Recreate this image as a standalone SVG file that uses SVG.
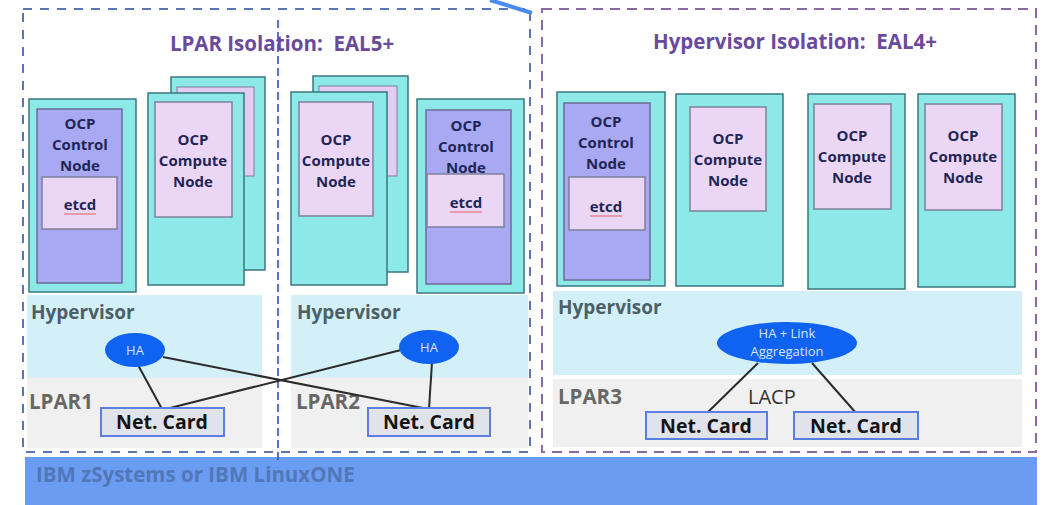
<svg xmlns="http://www.w3.org/2000/svg" width="1045" height="505" viewBox="0 0 1045 505">
  <style>
    .outer { fill: #8de8e8; stroke: #3b7780; stroke-width: 1.5; }
    .ctl { fill: #a8a8f3; stroke: #6b6b99; stroke-width: 1.5; }
    .pink { fill: #ecd6f5; stroke: #7f8099; stroke-width: 1.5; }
    .lav { fill: #e4cdf2; stroke: #7f8099; stroke-width: 1; }
    .nt { font-family: "Open Sans", "Liberation Sans", sans-serif; font-weight: 700; font-size: 15px; fill: #1e2656; text-anchor: middle; }
    .hv { fill: #d3f0f8; }
    .lp { fill: #f1f0f0; }
    .hvt { font-family: "Open Sans", "Liberation Sans", sans-serif; font-weight: 700; font-size: 19px; fill: #4d5f66; }
    .lpt { font-family: "Open Sans", "Liberation Sans", sans-serif; font-weight: 700; font-size: 20.5px; fill: #676767; }
    .ha { fill: #1062f0; }
    .hat { font-family: "Open Sans", "Liberation Sans", sans-serif; font-size: 13px; fill: #d6e4ff; text-anchor: middle; }
    .card { fill: #e0e3ea; stroke: #5b7fe0; stroke-width: 2; }
    .cardt { font-family: "Open Sans", "Liberation Sans", sans-serif; font-weight: 700; font-size: 19.5px; fill: #141414; text-anchor: middle; }
    .link { stroke: #2b2b2b; stroke-width: 2; fill: none; }
    .title { font-family: "Open Sans", "Liberation Sans", sans-serif; font-weight: 700; font-size: 20.5px; fill: #6a4a9c; text-anchor: middle; white-space: pre; }
    .uline { stroke: #e06060; stroke-width: 1; }
  </style>

  <rect width="1045" height="505" fill="#ffffff"/>

  <!-- platform base -->
  <g id="platform">
    <rect x="25" y="457" width="1012" height="48" fill="#6a9cf2"/>
    <text x="36" y="482" font-family="Open Sans, Liberation Sans, sans-serif" font-weight="700" font-size="20.5" fill="#5277b8">IBM zSystems or IBM LinuxONE</text>
  </g>

  <!-- isolation zones -->
  <g id="lpar-isolation">
    <rect x="23" y="9" width="507" height="443" fill="none" stroke="#5b74b4" stroke-width="2" stroke-dasharray="9 8"/>
    <line x1="278" y1="20" x2="278" y2="461" stroke="#3250b8" stroke-width="1.6" stroke-dasharray="8 4"/>
    <text class="title" x="282" y="51" xml:space="preserve">LPAR Isolation:  EAL5+</text>
  </g>
  <g id="hypervisor-isolation">
    <rect x="542" y="9" width="494" height="443" fill="none" stroke="#8a6aa4" stroke-width="2" stroke-dasharray="10 7"/>
    <text class="title" x="795" y="49" xml:space="preserve">Hypervisor Isolation:  EAL4+</text>
  </g>
  <line x1="490" y1="0" x2="532" y2="13" stroke="#4a8af0" stroke-width="4"/>

  <!-- LPAR layers -->
  <g id="lpar1">
    <rect class="hv" x="27" y="295" width="235" height="83"/>
    <rect class="lp" x="27" y="378" width="235" height="70"/>
    <text class="hvt" x="31" y="319">Hypervisor</text>
    <text class="lpt" x="29" y="409">LPAR1</text>
  </g>
  <g id="lpar2">
    <rect class="hv" x="291" y="295" width="237" height="83"/>
    <rect class="lp" x="291" y="378" width="237" height="70"/>
    <text class="hvt" x="297" y="319">Hypervisor</text>
    <text class="lpt" x="296" y="409">LPAR2</text>
  </g>
  <g id="lpar3">
    <rect class="hv" x="553" y="291" width="469" height="84"/>
    <rect class="lp" x="553" y="379" width="469" height="68"/>
    <text class="hvt" x="558" y="314">Hypervisor</text>
    <text class="lpt" x="558" y="404">LPAR3</text>
    <text x="748" y="404" font-family="Open Sans, Liberation Sans, sans-serif" font-size="20" fill="#333333">LACP</text>
  </g>

  <!-- LPAR1 nodes -->
  <g id="control1">
    <rect class="outer" x="29" y="99" width="107" height="193"/>
    <rect class="ctl" x="37" y="109" width="85" height="174"/>
    <text class="nt" x="80" y="129">OCP</text>
    <text class="nt" x="80" y="150">Control</text>
    <text class="nt" x="80" y="171">Node</text>
    <rect class="pink" x="42" y="177" width="75" height="52"/>
    <text class="nt" x="80" y="210">etcd</text>
    <line class="uline" x1="64" y1="214" x2="96" y2="214"/>
  </g>
  <g id="compute-stack1">
    <rect class="outer" x="171" y="77" width="94" height="193"/>
    <rect class="lav" x="177" y="87" width="77" height="89"/>
    <rect class="outer" x="148" y="93" width="96" height="192"/>
    <rect class="pink" x="155" y="102" width="77" height="115"/>
    <text class="nt" x="193" y="145">OCP</text>
    <text class="nt" x="193" y="166">Compute</text>
    <text class="nt" x="193" y="187">Node</text>
  </g>

  <!-- LPAR2 nodes -->
  <g id="compute-stack2">
    <rect class="outer" x="313" y="76" width="95" height="196"/>
    <rect class="lav" x="319" y="86" width="78" height="90"/>
    <rect class="outer" x="291" y="92" width="96" height="193"/>
    <rect class="pink" x="299" y="102" width="74" height="114"/>
    <text class="nt" x="336" y="145">OCP</text>
    <text class="nt" x="336" y="166">Compute</text>
    <text class="nt" x="336" y="187">Node</text>
  </g>
  <g id="control2">
    <rect class="outer" x="417" y="99" width="107" height="194"/>
    <rect class="ctl" x="426" y="110" width="85" height="174"/>
    <text class="nt" x="466" y="131">OCP</text>
    <text class="nt" x="466" y="152">Control</text>
    <text class="nt" x="466" y="173">Node</text>
    <rect class="pink" x="427" y="174" width="77" height="53"/>
    <text class="nt" x="466" y="208">etcd</text>
    <line class="uline" x1="450" y1="212" x2="482" y2="212"/>
  </g>

  <!-- LPAR3 nodes -->
  <g id="control3">
    <rect class="outer" x="557" y="92" width="108" height="194"/>
    <rect class="ctl" x="564" y="103" width="86" height="177"/>
    <text class="nt" x="606" y="127">OCP</text>
    <text class="nt" x="606" y="148">Control</text>
    <text class="nt" x="606" y="169">Node</text>
    <rect class="pink" x="569" y="177" width="76" height="53"/>
    <text class="nt" x="606" y="212">etcd</text>
    <line class="uline" x1="590" y1="216" x2="622" y2="216"/>
  </g>
  <g id="compute3a">
    <rect class="outer" x="676" y="94" width="107" height="192"/>
    <rect class="pink" x="690" y="107" width="76" height="104"/>
    <text class="nt" x="728" y="144">OCP</text>
    <text class="nt" x="728" y="165">Compute</text>
    <text class="nt" x="728" y="186">Node</text>
  </g>
  <g id="compute3b">
    <rect class="outer" x="808" y="94" width="97" height="195"/>
    <rect class="pink" x="814" y="104" width="77" height="105"/>
    <text class="nt" x="852" y="141">OCP</text>
    <text class="nt" x="852" y="162">Compute</text>
    <text class="nt" x="852" y="183">Node</text>
  </g>
  <g id="compute3c">
    <rect class="outer" x="918" y="94" width="97" height="193"/>
    <rect class="pink" x="925" y="104" width="77" height="106"/>
    <text class="nt" x="963" y="141">OCP</text>
    <text class="nt" x="963" y="162">Compute</text>
    <text class="nt" x="963" y="183">Node</text>
  </g>

  <!-- connectors -->
  <g id="connectors">
    <line class="link" x1="138" y1="365" x2="162" y2="409"/>
    <line class="link" x1="163" y1="357" x2="428" y2="409"/>
    <line class="link" x1="401" y1="350" x2="166" y2="409"/>
    <line class="link" x1="432" y1="362" x2="429" y2="409"/>
    <line class="link" x1="758" y1="363" x2="707" y2="413"/>
    <line class="link" x1="812" y1="363" x2="856" y2="413"/>
  </g>

  <!-- HA services -->
  <g id="ha1">
    <ellipse class="ha" cx="135" cy="350" rx="30" ry="17"/>
    <text class="hat" x="135" y="355">HA</text>
  </g>
  <g id="ha2">
    <ellipse class="ha" cx="429" cy="347" rx="30" ry="17"/>
    <text class="hat" x="429" y="352">HA</text>
  </g>
  <g id="ha-lacp">
    <ellipse class="ha" cx="787" cy="343" rx="70" ry="21"/>
    <text class="hat" x="787" y="338">HA + Link</text>
    <text class="hat" x="787" y="356">Aggregation</text>
  </g>

  <!-- network cards -->
  <g id="netcard1">
    <rect class="card" x="101" y="408" width="123" height="28"/>
    <text class="cardt" x="162" y="429">Net. Card</text>
  </g>
  <g id="netcard2">
    <rect class="card" x="368" y="408" width="122" height="28"/>
    <text class="cardt" x="429" y="429">Net. Card</text>
  </g>
  <g id="netcard3">
    <rect class="card" x="646" y="412" width="121" height="27"/>
    <text class="cardt" x="706" y="433">Net. Card</text>
  </g>
  <g id="netcard4">
    <rect class="card" x="794" y="412" width="124" height="27"/>
    <text class="cardt" x="856" y="433">Net. Card</text>
  </g>
</svg>
